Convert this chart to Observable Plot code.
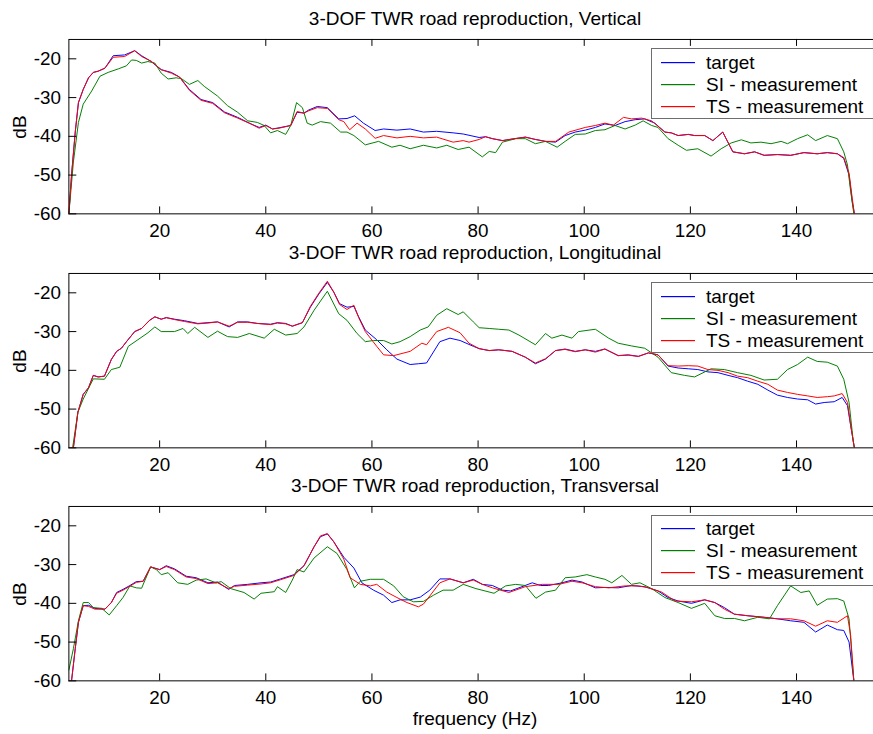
<!DOCTYPE html>
<html><head><meta charset="utf-8">
<script src="https://cdn.jsdelivr.net/npm/d3@7"></script>
<script src="https://cdn.jsdelivr.net/npm/@observablehq/plot@0.6"></script>
<style>
html,body{margin:0;padding:0;background:#fff;overflow:hidden}
#wrap{position:relative;width:873px;height:734px;overflow:hidden;background:#fff}
#wrap svg{position:absolute;left:0}
</style></head><body><div id="wrap"></div>
<script>
// ---- labels / ticks ----
const panelTitles = ["3-DOF TWR road reproduction, Vertical","3-DOF TWR road reproduction, Longitudinal","3-DOF TWR road reproduction, Transversal"];
const seriesNames = ["target","SI - measurement","TS - measurement"];
const seriesColors = ["#0000ff","#008000","#ff0000"];
const xTicks = [20,40,60,80,100,120,140];
const yTicks = [-20,-30,-40,-50,-60];
const xDomain = [2.9,154.5];
const yDomain = [-60,-15];
const xLabel = "frequency (Hz)";
const yLabel = "dB";

// ---- data: [frequency Hz, level dB] ----
const vertTarget = [[2.9,-60],[3.4,-50.0],[4.1,-38.9],[4.7,-31.3],[5.6,-27.9],[6.6,-24.9],[7.5,-23.5],[8.4,-23.2],[9.7,-22.4],[11.25,-19.2],[13.4,-19.0],[15.3,-17.9],[16.6,-19.2],[18.4,-20.7],[20.3,-22.8],[22.2,-23.5],[23.75,-24.7],[25.6,-27.9],[27.8,-30.5],[30,-31.3],[32.2,-33.7],[34.7,-35.1],[37.2,-36.8],[38.75,-37.7],[40,-37.1],[41.25,-38.1],[42.5,-37.8],[44.7,-37.2],[45.9,-33.8],[47.2,-34.0],[48.1,-33.2],[49.7,-32.3],[51.6,-32.6],[53.75,-35.5],[55.3,-35.4],[56.75,-34.7],[58.4,-36.6],[60.6,-38.5],[62.2,-38.1],[64.7,-38.4],[67.2,-38.1],[69.7,-38.9],[72.2,-38.7],[75.3,-39.1],[77.2,-39.4],[80.2,-40.3],[81.4,-40.1],[82.7,-40.6],[84.6,-41.1],[86.4,-40.7],[88.9,-40.2],[90.8,-40.8],[92.7,-41.3],[94.6,-41.5],[96.4,-39.8],[98.3,-38.9],[100.2,-38.4],[102.1,-37.7],[103.9,-36.8],[105.8,-37.2],[107.7,-36.2],[109.6,-35.7],[111.4,-35.5],[113.3,-36.6],[115.2,-38.9],[116.4,-39.1],[117.7,-39.8],[119.6,-39.5],[120.8,-39.8],[122.7,-39.8],[124.25,-41.1],[126.1,-38.9],[128,-44.0],[130.2,-44.5],[132.1,-44.0],[133.9,-44.9],[136.4,-44.7],[138.9,-44.9],[141.4,-44.2],[143.9,-44.5],[145.8,-44.2],[147.7,-44.5],[148.9,-45.7],[149.9,-50.0],[150.5,-56.8],[150.9,-60]];
const vertSI = [[2.9,-60],[3.1,-56.8],[3.75,-46.6],[4.7,-36.4],[5.6,-31.7],[7.2,-28.3],[8.75,-24.5],[10.3,-23.5],[12.2,-22.6],[13.75,-21.8],[14.7,-20.3],[15.6,-20.4],[16.6,-21.1],[17.8,-20.7],[19.1,-21.1],[20.3,-23.7],[21.6,-25.2],[23.1,-24.9],[24.1,-25.1],[25.6,-26.6],[27.2,-25.6],[28.4,-27.1],[30.9,-29.6],[32.8,-32.1],[34.7,-33.8],[36.6,-36.0],[38.4,-36.4],[39.7,-37.2],[40.9,-39.1],[42.2,-38.5],[43.75,-39.5],[44.7,-37.2],[45.8,-31.3],[46.9,-32.6],[47.8,-36.6],[48.75,-37.1],[50.3,-36.2],[52.2,-36.6],[54.1,-38.9],[55.3,-38.9],[56.6,-39.8],[58.75,-42.2],[61.25,-41.3],[63.75,-42.8],[65.3,-42.3],[67.2,-43.2],[69.7,-42.3],[72.2,-43.0],[74.1,-42.3],[76.25,-43.4],[78.3,-42.8],[80.8,-45.3],[82.1,-43.9],[83.3,-44.2],[84.6,-41.5],[87.1,-40.6],[88.9,-40.6],[90.8,-41.9],[92.7,-41.3],[94.9,-42.8],[96.4,-41.3],[98.3,-39.5],[100.2,-39.4],[102.1,-38.5],[103.9,-38.3],[105.8,-37.2],[107.7,-38.1],[109.6,-37.1],[111.1,-36.0],[112.7,-37.2],[113.9,-37.7],[115.8,-40.6],[117.7,-42.3],[119.25,-43.6],[121.4,-43.2],[123.9,-45.1],[125.8,-43.2],[127.7,-41.7],[129.6,-40.9],[131.4,-41.7],[133.3,-41.5],[135.2,-41.9],[137.1,-41.3],[138.3,-41.9],[140.2,-40.6],[142.1,-39.6],[143.6,-41.1],[145.8,-39.8],[147.7,-40.6],[148.9,-44.0],[149.6,-47.4],[150.2,-54.2],[150.8,-60]];
const vertTS = [[2.9,-60],[3.4,-50.0],[4.1,-38.9],[4.7,-31.3],[5.6,-27.9],[6.6,-24.9],[7.5,-23.5],[8.4,-23.2],[9.7,-22.4],[11.25,-19.6],[13.4,-19.4],[15.3,-17.9],[16.6,-19.4],[18.4,-20.6],[20.3,-22.8],[22.2,-23.7],[23.75,-24.7],[25.6,-28.1],[27.8,-30.7],[30,-31.5],[32.2,-33.9],[34.7,-35.3],[37.2,-36.8],[38.75,-37.9],[40,-37.2],[41.25,-38.1],[42.5,-37.9],[44.7,-37.2],[45.9,-33.6],[47.2,-34.0],[48.1,-33.4],[49.7,-32.6],[51.6,-32.8],[53.75,-35.7],[54.7,-36.2],[55.8,-38.3],[57.2,-36.6],[58.75,-38.1],[60.6,-40.5],[62.2,-39.8],[64.7,-40.4],[67.2,-40.0],[69.7,-40.4],[72.2,-40.2],[75.3,-41.5],[77.2,-41.1],[78.3,-41.5],[80.2,-40.8],[81.4,-40.1],[82.7,-40.6],[84.6,-41.1],[86.4,-40.7],[88.9,-40.2],[90.8,-40.8],[92.7,-41.3],[94.6,-41.3],[97.1,-38.9],[100.2,-37.7],[102.1,-37.2],[103.9,-36.6],[105.5,-37.1],[107.4,-35.1],[108.9,-35.5],[110.8,-35.3],[112.7,-36.0],[115.2,-38.9],[116.4,-39.1],[117.7,-39.8],[119.6,-39.5],[120.8,-39.8],[122.7,-39.8],[124.25,-41.1],[126.1,-38.9],[128,-44.0],[130.2,-44.5],[132.1,-44.0],[133.9,-44.9],[136.4,-44.7],[138.9,-44.9],[141.4,-44.2],[143.9,-44.5],[145.8,-44.2],[147.7,-44.5],[148.9,-45.5],[149.9,-49.5],[150.5,-56],[150.9,-60]];

const longTarget = [[3.75,-60],[4.6,-50.8],[5.6,-46.2],[6.6,-44.5],[7.5,-41.3],[8.4,-41.7],[9.6,-41.5],[10.9,-37.2],[11.9,-35.1],[12.8,-34.3],[13.75,-32.6],[15.3,-30.0],[16.6,-29.2],[18.1,-27.1],[19.1,-26.2],[20.3,-26.8],[21.25,-26.4],[22.8,-26.8],[24.7,-27.2],[27.2,-27.9],[29.1,-27.7],[30.9,-27.5],[33.1,-28.8],[34.7,-27.5],[36.6,-27.5],[38.4,-27.9],[40.9,-28.1],[42.2,-27.7],[43.75,-27.9],[45,-28.6],[46.9,-27.7],[48.4,-23.7],[50,-20.3],[51.6,-17.3],[52.8,-19.8],[53.9,-22.8],[55.3,-23.7],[56.6,-23.5],[57.5,-26.2],[58.75,-29.6],[60.9,-32.1],[62.8,-34.7],[64.7,-37.1],[67.2,-38.5],[68.75,-38.3],[70.3,-38.1],[72.8,-32.6],[74.7,-31.7],[76.6,-32.3],[79.1,-33.8],[80.2,-34.4],[82.1,-34.9],[83.9,-34.7],[86.4,-35.1],[88.9,-36.6],[90.8,-38.3],[92.7,-37.1],[94.6,-34.9],[96.4,-34.5],[98.3,-35.1],[100.2,-34.7],[102.1,-35.1],[103.9,-34.5],[106.4,-36.2],[108.3,-36.0],[110.2,-36.4],[112.1,-35.5],[113.9,-36.0],[115.8,-38.9],[117.7,-39.4],[119.6,-39.6],[121.4,-39.8],[123.3,-40.4],[125.2,-40.6],[127.1,-41.3],[128.9,-41.9],[130.8,-42.8],[132.7,-43.6],[134.6,-45.1],[136.4,-46.4],[138.3,-47.0],[140.2,-47.4],[142.1,-47.6],[143.6,-48.7],[145.2,-48.3],[147.1,-48.1],[148.6,-47.0],[149.6,-49.1],[150.2,-54.2],[150.9,-60]];
const longSI = [[3.6,-60],[4.6,-50.8],[5.6,-47.4],[7.5,-42.2],[9.6,-42.3],[10.9,-39.8],[12.5,-39.2],[14.1,-33.8],[15.9,-32.1],[17.8,-30.3],[19.1,-28.8],[20.3,-30.0],[22.8,-30.0],[24.4,-29.2],[25.3,-30.5],[26.6,-28.9],[29.1,-31.5],[30.9,-29.9],[32.8,-31.3],[34.7,-31.5],[36.9,-30.5],[39.7,-31.7],[41.6,-29.4],[43.75,-30.9],[45.9,-30.5],[47.2,-28.8],[49.1,-24.5],[51.6,-19.6],[53.75,-25.4],[55.3,-27.1],[57.2,-30.5],[58.75,-32.6],[60.3,-32.3],[62.2,-32.3],[63.75,-33.2],[65.3,-32.6],[67.2,-31.3],[69.1,-29.6],[70.6,-28.8],[72.2,-25.8],[74.1,-24.1],[76.25,-25.6],[77.2,-24.9],[79.1,-27.5],[80.2,-29.0],[82.1,-29.2],[83.9,-29.4],[85.8,-29.6],[87.7,-30.9],[90.8,-33.4],[92.7,-30.5],[93.9,-31.7],[95.8,-30.9],[97.7,-31.7],[98.9,-30.0],[102.1,-29.4],[104.6,-31.7],[106.4,-33.0],[108.9,-33.7],[111.4,-34.3],[113.9,-36.6],[116.4,-40.6],[118.9,-41.3],[120.8,-41.7],[123.9,-39.6],[126.4,-39.8],[128.9,-40.6],[131.4,-41.3],[133.9,-42.5],[136.4,-42.3],[138.3,-39.8],[140.2,-38.5],[142.1,-36.6],[143.9,-37.7],[145.8,-37.9],[147.7,-38.9],[148.9,-42.3],[149.9,-48.3],[150.7,-58.5],[150.9,-60]];
const longTS = [[3.75,-60],[4.6,-50.8],[5.6,-46.2],[6.6,-44.5],[7.5,-41.3],[8.4,-41.7],[9.6,-41.5],[10.9,-37.2],[11.9,-35.1],[12.8,-34.3],[13.75,-32.6],[15.3,-30.0],[16.6,-29.2],[18.1,-27.1],[19.1,-26.2],[20.3,-26.8],[21.25,-26.4],[22.8,-26.9],[24.7,-27.4],[27.2,-28.0],[29.1,-27.8],[30.9,-27.5],[33.1,-28.6],[34.7,-27.6],[36.6,-27.6],[38.4,-27.9],[40.9,-28.2],[42.2,-27.8],[43.75,-28.0],[45,-28.6],[46.9,-27.7],[48.4,-23.5],[50,-20.1],[51.6,-17.0],[52.8,-19.8],[53.9,-23.0],[55.3,-24.3],[56.6,-23.2],[57.5,-26.4],[58.75,-30.0],[60.9,-33.8],[62.2,-36.0],[64.1,-36.2],[67.2,-35.1],[69.4,-33.0],[70.3,-33.4],[72.2,-30.0],[74.4,-28.9],[76.6,-30.3],[78.3,-33.0],[80.2,-34.4],[82.1,-34.9],[83.9,-34.7],[86.4,-35.1],[88.9,-36.6],[90.8,-38.1],[92.7,-37.0],[94.6,-34.9],[96.4,-34.6],[98.3,-35.2],[100.2,-34.7],[102.1,-35.3],[103.9,-34.5],[106.4,-36.2],[108.3,-36.1],[110.2,-36.4],[112.1,-35.5],[113.9,-36.0],[115.8,-38.8],[117.7,-38.9],[119.6,-38.8],[121.4,-38.9],[123.3,-39.8],[125.2,-40.0],[127.1,-40.6],[128.9,-41.5],[130.8,-41.9],[132.7,-42.8],[134.6,-43.6],[136.4,-45.1],[138.3,-45.7],[140.2,-46.2],[142.1,-46.6],[143.9,-47.0],[145.8,-46.8],[147.1,-46.6],[148.6,-46.0],[149.6,-48.3],[150.2,-54.2],[150.9,-60]];

const transTarget = [[3.4,-60],[4.1,-51.7],[4.7,-44.9],[5.6,-40.6],[6.6,-40.5],[7.8,-41.3],[9.7,-41.5],[10.9,-39.8],[11.9,-37.2],[13.1,-36.4],[14.4,-35.4],[15.6,-34.4],[16.9,-34.3],[18.3,-30.6],[20,-31.3],[21.25,-30.3],[22.8,-31.1],[25,-33.0],[26.9,-33.4],[29.1,-34.7],[30.9,-34.5],[33,-36.4],[34.1,-35.4],[36.6,-35.1],[39.1,-34.7],[40.9,-34.5],[42.8,-33.7],[45.3,-32.6],[47.2,-30.3],[49.1,-25.4],[50.3,-22.8],[51.6,-22.1],[52.8,-24.1],[54.7,-28.1],[56.6,-30.9],[58.1,-34.7],[60.3,-36.6],[62.2,-37.9],[63.75,-39.8],[65.3,-39.1],[67.2,-39.1],[69.1,-38.4],[70.9,-36.6],[72.8,-33.7],[74.7,-33.7],[77.2,-34.7],[79.1,-33.8],[80.8,-35.1],[82.7,-35.4],[84.6,-36.6],[86.1,-36.8],[87.7,-36.0],[90.2,-34.7],[91.75,-35.4],[93.3,-35.4],[95.8,-34.7],[97.7,-34.0],[99.6,-34.5],[102.1,-36.0],[103.9,-35.9],[106.4,-36.0],[108.9,-35.4],[111.4,-35.7],[113.9,-36.8],[115.8,-38.5],[117.7,-39.4],[120.2,-40.0],[122.7,-39.1],[124.6,-39.8],[126.4,-41.1],[128.3,-42.8],[130.8,-43.2],[133.9,-43.6],[136.4,-44.0],[138.9,-44.5],[141.4,-44.9],[143.6,-47.4],[145.8,-45.6],[147.7,-46.8],[148.9,-47.0],[149.9,-50.0],[150.8,-60]];
const transSI = [[2.9,-57.2],[3.75,-51.7],[4.7,-44.5],[5.6,-39.8],[6.6,-39.8],[7.5,-41.1],[9.1,-41.3],[10.5,-43.0],[11.9,-40.6],[13.1,-38.5],[14.4,-35.5],[15.6,-36.0],[16.6,-36.1],[18.3,-30.6],[19.4,-31.3],[20.3,-32.6],[21.6,-32.1],[23.4,-34.7],[25.3,-35.1],[26.9,-34.0],[28.75,-33.7],[30.6,-34.7],[31.6,-34.4],[33.4,-36.2],[35.9,-37.2],[37.8,-38.9],[39.1,-37.4],[41.6,-37.0],[42.2,-35.7],[43.75,-37.2],[45,-34.0],[45.9,-31.3],[47.2,-31.9],[49.1,-28.3],[51.6,-25.4],[53.4,-27.1],[55.3,-31.3],[56.7,-36.0],[57.8,-34.3],[59.7,-33.8],[62.2,-33.8],[64.1,-35.5],[65.9,-38.3],[67.8,-39.6],[69.7,-39.5],[71.6,-37.9],[73.4,-36.6],[75.3,-36.6],[77.2,-35.1],[79.6,-36.2],[83,-37.4],[85.2,-35.5],[87.1,-35.1],[88.9,-35.4],[90.9,-38.7],[92.7,-37.1],[94.6,-36.6],[96.4,-33.4],[98.3,-33.2],[100.5,-32.6],[102.1,-33.2],[103.9,-33.8],[105.2,-34.7],[107.1,-32.8],[108.9,-35.1],[110.5,-34.7],[112.7,-36.2],[115.2,-38.5],[117.7,-39.8],[120.2,-41.3],[122.7,-40.0],[124.6,-43.2],[126.4,-43.9],[128.3,-43.9],[130.2,-44.5],[132.7,-43.6],[134.9,-44.0],[136.4,-40.6],[138.9,-35.5],[140.8,-37.2],[142.4,-36.8],[143.9,-40.5],[145.8,-38.9],[147.7,-38.8],[148.9,-39.4],[149.9,-44.0],[150.8,-60]];
const transTS = [[3.4,-60],[4.1,-51.7],[4.7,-44.9],[5.6,-40.6],[6.6,-40.8],[7.8,-41.5],[9.7,-41.5],[10.9,-39.8],[11.9,-37.4],[13.1,-36.6],[14.4,-35.6],[15.6,-34.6],[16.9,-34.3],[18.3,-30.6],[20,-31.3],[21.25,-30.5],[22.8,-31.3],[25,-33.2],[26.9,-33.6],[29.1,-34.9],[30.9,-34.7],[33,-36.2],[34.1,-35.6],[36.6,-35.3],[39.1,-35.0],[40.9,-34.7],[42.8,-33.9],[45.3,-32.8],[47.2,-30.3],[49.1,-25.4],[50.3,-22.6],[51.6,-22.0],[52.8,-24.1],[54.7,-28.6],[55.9,-33.4],[57.8,-35.1],[59.7,-35.5],[60.9,-35.1],[62.8,-37.1],[64.7,-38.5],[66.6,-39.8],[68.75,-40.9],[69.7,-40.2],[70.9,-38.1],[72.8,-34.7],[74.7,-33.7],[77.2,-34.7],[79.1,-34.0],[80.8,-35.1],[82.7,-36.0],[85.8,-37.2],[88.9,-35.7],[92.1,-35.1],[95.2,-35.1],[97.7,-34.3],[99.6,-34.7],[102.1,-35.7],[104.6,-36.0],[107.7,-35.5],[110.2,-35.5],[112.1,-36.0],[114.6,-37.1],[117.1,-39.4],[120.2,-39.6],[122.7,-39.1],[124.6,-39.8],[126.4,-41.5],[128.3,-42.8],[130.8,-43.2],[133.9,-43.6],[136.4,-44.0],[138.9,-44.0],[141.4,-44.5],[143.6,-45.9],[145.8,-44.5],[147.7,-44.9],[149.6,-43.2],[150.2,-48.3],[150.8,-60]];

// ---- layout ----
const FONT = '"Liberation Sans", Arial, Helvetica, sans-serif';
const FS = 19;
const W = 881, H = 211, ML = 69, MT = 5, MB = 30;
const frameH = H - MT - MB, frameW = W - ML;
const frameTops = [39, 273, 506];
const panels = [
  {title: panelTitles[0], series: [vertTarget, vertSI, vertTS]},
  {title: panelTitles[1], series: [longTarget, longSI, longTS]},
  {title: panelTitles[2], series: [transTarget, transSI, transTS]}
];
const wrap = document.getElementById("wrap");

panels.forEach((p, i) => {
  const rows = [];
  p.series.forEach((s, k) => s.forEach(([f, v]) => rows.push({f, v, name: seriesNames[k]})));
  const chart = Plot.plot({
    width: W, height: H, marginLeft: ML, marginRight: 0, marginTop: MT, marginBottom: MB,
    style: {fontFamily: FONT, fontSize: FS + "px", background: "transparent", color: "#000", overflow: "visible"},
    x: {domain: xDomain, ticks: xTicks, tickSize: 0, tickPadding: 10, tickFormat: d => String(d), label: null},
    y: {domain: yDomain, ticks: yTicks, tickSize: 0, tickPadding: 8, tickFormat: d => String(d), label: null},
    color: {domain: seriesNames, range: seriesColors},
    marks: [
      Plot.line(rows, {x: "f", y: "v", z: "name", stroke: "name", strokeWidth: 1, clip: true}),
      Plot.tickX(xTicks, {x: d => d, insetTop: frameH - 7, stroke: "#000"}),
      Plot.tickX(xTicks, {x: d => d, insetBottom: frameH - 7, stroke: "#000"}),
      Plot.tickY(yTicks, {y: d => d, insetRight: frameW - 8, stroke: "#000"}),
      Plot.frame({stroke: "#000"})
    ]
  });
  chart.style.top = (frameTops[i] - MT) + "px";
  wrap.appendChild(chart);
});

// ---- overlay: titles, axis labels, legends ----
const ov = d3.select(wrap).append("svg")
  .attr("width", 873).attr("height", 734)
  .style("top", "0px")
  .style("font-family", FONT).style("font-size", FS + "px");

panels.forEach((p, i) => {
  const ft = frameTops[i];
  ov.append("text").attr("x", 475).attr("y", ft - 14.5).attr("text-anchor", "middle").attr("fill", "#000").text(p.title);
  ov.append("text").attr("transform", `translate(26,${ft + frameH / 2}) rotate(-90)`).attr("text-anchor", "middle").attr("fill", "#000").text(yLabel);
  const ly = Math.round(ft + 8.5);
  const g = ov.append("g");
  g.append("rect").attr("x", 651.5).attr("y", ly + 0.5).attr("width", 240).attr("height", 70)
    .attr("fill", "#fff").attr("stroke", "#6e6e6e").attr("stroke-width", 1);
  const row0 = 2 * Math.round((ly + 13) / 2);
  seriesNames.forEach((name, k) => {
    const ry = row0 + 22 * k;
    g.append("rect").attr("x", 661).attr("y", ry).attr("width", 34).attr("height", 1.2)
      .attr("fill", seriesColors[k]);
    g.append("text").attr("x", 706).attr("y", ry + 7).attr("fill", "#000").text(name);
  });
});
ov.append("text").attr("x", 475).attr("y", 725).attr("text-anchor", "middle").attr("fill", "#000").text(xLabel);
</script>
</body></html>
